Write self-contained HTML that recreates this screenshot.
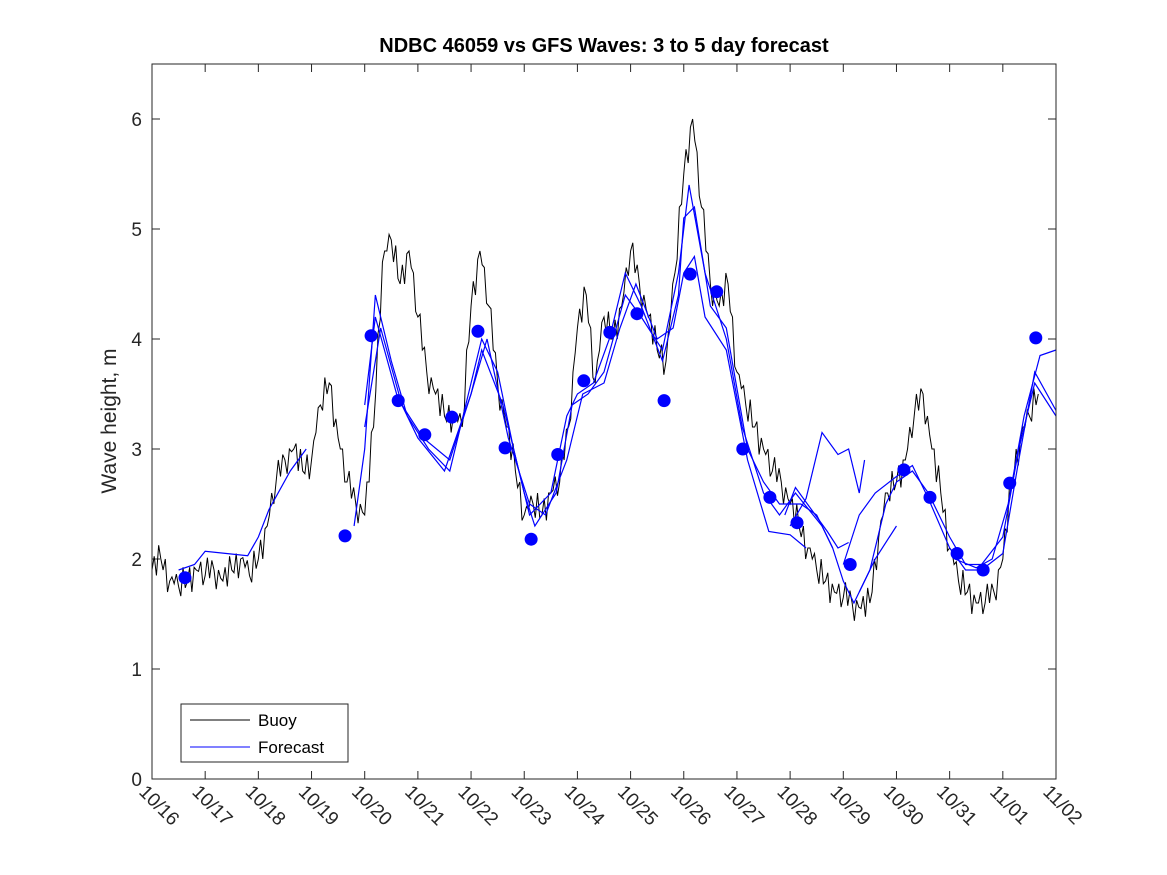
<!DOCTYPE html>
<html><head><meta charset="utf-8">
<style>body{margin:0;background:#fff}svg{display:block;font-family:"Liberation Sans","DejaVu Sans",sans-serif}</style>
</head><body>
<svg id="chart" width="1167" height="875">
<rect x="0" y="0" width="1167" height="875" fill="#fff"/>
<text x="604" y="52" text-anchor="middle" font-size="20" font-weight="bold">NDBC 46059 vs GFS Waves: 3 to 5 day forecast</text>
<text transform="translate(116,421) rotate(-90)" text-anchor="middle" font-size="21" fill="#262626">Wave height, m</text>
<g id="plot"></g>
<rect x="152" y="64" width="904" height="715" fill="none" stroke="#262626" stroke-width="1"/>
<g>
<rect x="181" y="704" width="167" height="58" fill="#fff" stroke="#262626"/>
<line x1="190" y1="720" x2="250" y2="720" stroke="#000"/>
<text x="258" y="726" font-size="17">Buoy</text>
<line x1="190" y1="747" x2="250" y2="747" stroke="#0000ff"/>
<text x="258" y="753" font-size="17">Forecast</text>
</g>
</svg>
<script>
const xTickLabels=["10/16","10/17","10/18","10/19","10/20","10/21","10/22","10/23","10/24","10/25","10/26","10/27","10/28","10/29","10/30","10/31","11/01","11/02"];
const yTicks=[0,1,2,3,4,5,6];
const buoyStartDay=0, buoyStep=1/6;
const buoyValues=[1.9,2.0,1.8,1.75,1.8,1.9,
1.85,1.9,1.8,1.9,2.0,1.85,
2.0,2.3,2.7,2.9,3.0,2.8,
2.9,3.4,3.6,3.1,2.7,2.5,
2.4,3.2,4.7,4.9,4.5,4.8,
4.2,3.7,3.5,3.3,3.3,3.2,
4.3,4.8,4.3,3.6,3.2,2.8,
2.4,2.5,2.4,2.6,2.7,3.2,
4.1,4.4,3.6,4.2,4.0,4.3,
4.8,4.5,4.2,3.9,3.8,4.6,
5.5,6.0,5.2,4.5,4.3,4.5,
3.7,3.4,3.2,3.0,2.8,2.7,
2.5,2.3,2.1,1.9,1.8,1.7,
1.65,1.6,1.55,1.6,2.2,2.6,
2.7,2.9,3.3,3.5,3.0,2.6,
2.1,1.8,1.7,1.6,1.6,1.7,
2.0,2.7,3.1,3.3,3.5];
const buoyJitter=[0,0.1,-0.1,0.15,-0.05,0.1,-0.15,0.05];
const run0Days=[0.5,0.8,1.0,1.4,1.8,2.0,2.2,2.6,2.9];
const run0Vals=[1.9,1.95,2.07,2.05,2.03,2.2,2.45,2.8,3.0];
const runADays=[3.8,4.0,4.2,4.5,4.8,5.2,5.6,6.0,6.2,6.5,6.8,7.1,7.5,7.8,8.0,8.3,8.6,8.9,9.2,9.6,9.9,10.0,10.2,10.5,10.8,11.2,11.5,11.8,12.2,12.5,12.8,13.0,13.2,13.5,13.8,14.0,14.3,14.6,15.0,15.3,15.6,16.0,16.3,16.6,17.0];
const runAVals=[2.3,3.0,4.4,3.8,3.3,3.0,2.8,3.6,4.0,3.7,3.0,2.4,2.6,3.3,3.5,3.6,4.0,4.6,4.3,3.8,4.4,5.1,5.2,4.3,4.1,3.0,2.7,2.5,2.5,2.4,2.1,1.8,1.6,1.9,2.5,2.7,2.8,2.6,2.2,1.95,1.95,2.2,3.0,3.6,3.3];
const runBDays=[4.0,4.2,4.6,5.0,5.5,6.0,6.2,6.6,7.0,7.2,7.6,7.9,8.2,8.5,8.9,9.2,9.6,9.9,10.1,10.4,10.8,11.1,11.5,11.8,12.1,12.6,12.8];
const runBVals=[3.4,4.2,3.5,3.1,2.8,3.5,3.9,3.4,2.6,2.3,2.6,3.4,3.5,3.7,4.4,4.2,3.9,4.6,5.4,4.6,4.0,3.2,2.6,2.4,2.6,2.3,2.1];
const runCDays=[4.0,4.3,4.7,5.1,5.6,6.0,6.3,6.7,7.1,7.4,7.8,8.1,8.5,8.8,9.1,9.5,9.8,10.0,10.2,10.4,10.8,11.2,11.6,12.0,12.3];
const runCVals=[3.2,4.1,3.4,3.1,2.9,3.5,4.0,3.1,2.5,2.4,2.9,3.5,3.6,4.1,4.5,4.0,4.1,4.6,4.75,4.2,3.9,2.9,2.25,2.22,2.1];
const runDDays=[12.0,12.3,12.6,12.9,13.1,13.3,13.4];
const runDVals=[2.3,2.55,3.15,2.95,3.0,2.6,2.9];
const runEDays=[11.9,12.1,12.4,12.7,12.9,13.1];
const runEVals=[2.4,2.65,2.45,2.25,2.1,2.15];
const runFDays=[13.3,13.6,14.0];
const runFVals=[1.7,2.0,2.3];
const runGDays=[13.0,13.3,13.6,14.0,14.3,14.6,15.0,15.3,15.6,16.0,16.3,16.6,17.0];
const runGVals=[1.95,2.4,2.6,2.75,2.85,2.55,2.1,1.9,1.9,2.05,2.9,3.7,3.35];
const runHDays=[15.1,15.5,15.8,16.1,16.4,16.7,17.0];
const runHVals=[2.0,1.92,2.0,2.5,3.3,3.85,3.9];
const dotDays=[0.62,3.63,4.12,4.63,5.13,5.64,6.13,6.64,7.13,7.63,8.12,8.61,9.12,9.63,10.12,10.62,11.11,11.62,12.13,13.13,14.14,14.63,15.14,15.63,16.13,16.62];
const dotVals=[1.83,2.21,4.03,3.44,3.13,3.29,4.07,3.01,2.18,2.95,3.62,4.06,4.23,3.44,4.59,4.43,3.00,2.56,2.33,1.95,2.81,2.56,2.05,1.90,2.69,4.01];

const X0=152,X1=1056,Y0=779,Y1=64,DAYS=17,YMAX=6.5;
const xs=d=>X0+d*(X1-X0)/DAYS;
const ys=v=>Y0-v*(Y0-Y1)/YMAX;
const NS="http://www.w3.org/2000/svg";
const plot=document.getElementById("plot");
const svg=document.getElementById("chart");
function mk(tag,attrs,parent){const e=document.createElementNS(NS,tag);for(const k in attrs)e.setAttribute(k,attrs[k]);(parent||plot).appendChild(e);return e;}

yTicks.forEach(v=>{
 const t=mk("line",{x1:X0,x2:X0+8,y1:ys(v),y2:ys(v),stroke:"#262626"});
 
 
 const t2=mk("line",{x1:X1-8,x2:X1,y1:ys(v),y2:ys(v),stroke:"#262626"});
 
 
 const l=mk("text",{x:X0-10,y:ys(v)+7,"text-anchor":"end","font-size":"19",fill:"#262626"},svg);
 l.textContent=v;
 
 
});
xTickLabels.forEach((s,i)=>{
 const x=xs(i);
 const t=mk("line",{x1:x,x2:x,y1:Y0,y2:Y0-8,stroke:"#262626"});
 
 
 const t2=mk("line",{x1:x,x2:x,y1:Y1,y2:Y1+8,stroke:"#262626"});
 
 
 const l=mk("text",{transform:`translate(${x-14},${Y0+14}) rotate(45)`,"font-size":"19",fill:"#262626"},svg);
 l.textContent=s;
 
 
});

// buoy line, sub-sampled with small alternating jitter for noisy look
let pts=[];
for(let i=0;i<buoyValues.length;i++){
 const d=buoyStartDay+i*buoyStep;
 pts.push(xs(d)+","+ys(buoyValues[i]));
 if(i<buoyValues.length-1){
  for(let k=1;k<4;k++){
   const f=k/4;
   const v=buoyValues[i]*(1-f)+buoyValues[i+1]*f+buoyJitter[(i*3+k)%buoyJitter.length];
   pts.push(xs(d+f*buoyStep)+","+ys(v));
  }
 }
}
const b=mk("polyline",{points:pts.join(" "),fill:"none",stroke:"#000","stroke-width":"1"});



const runs=[[run0Days,run0Vals],[runADays,runAVals],[runBDays,runBVals],[runCDays,runCVals],[runDDays,runDVals],[runEDays,runEVals],[runFDays,runFVals],[runGDays,runGVals],[runHDays,runHVals]];
runs.forEach(([dd,vv])=>{
 const p=dd.map((d,i)=>xs(d)+","+ys(vv[i])).join(" ");
 const l=mk("polyline",{points:p,fill:"none",stroke:"#0000ff","stroke-width":"1.2"});
 
 
});
dotDays.forEach((d,i)=>{
 const c=mk("circle",{cx:xs(d),cy:ys(dotVals[i]),r:6.5,fill:"#0000ff"});
 
 
});
</script>
</body></html>
